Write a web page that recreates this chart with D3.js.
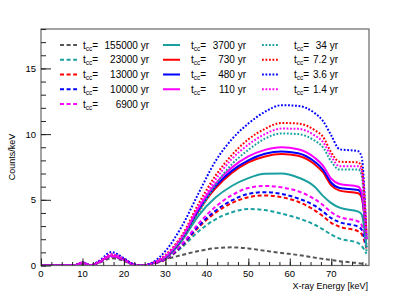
<!DOCTYPE html>
<html>
<head>
<meta charset="utf-8">
<script src="https://cdn.jsdelivr.net/npm/d3@7"></script>
<style>
  body { margin: 0; background: #fff; }
  svg { font-family: "Liberation Sans", Arial, sans-serif; }
</style>
</head>
<body>
<svg width="411" height="296"></svg>
<script>
// energy grid (keV) the curves are sampled at
let energy = [0, 8, 10, 12, 14, 17, 20, 22, 24.5, 27, 30, 34, 38, 42, 46, 50, 54, 58, 62, 66, 68, 70, 72, 76.5, 77.3, 78.5];

// counts/keV, one array per curve
let dash155000 = [0, 0.01, 0.12, 0.01, 0.2, 0.55, 0.35, 0.1, 0, 0.15, 0.45, 0.8, 1.1, 1.32, 1.38, 1.3, 1.12, 0.95, 0.8, 0.6, 0.5, 0.42, 0.33, 0.18, 0.14, 0.08];
let dash23000  = [0, 0.02, 0.18, 0.02, 0.24, 0.7, 0.42, 0.1, 0, 0.15, 0.45, 1.4, 2.6, 3.5, 4.05, 4.3, 4.22, 3.95, 3.6, 3.1, 2.75, 2.35, 2.05, 1.7, 1.5, 0.9];
let dash13000  = [0, 0.02, 0.18, 0.02, 0.24, 0.7, 0.42, 0.1, 0, 0.15, 0.45, 1.5, 2.9, 4.0, 4.75, 5.2, 5.33, 5.2, 4.85, 4.2, 3.75, 3.25, 2.95, 2.6, 2.4, 1.3];
let dash10000  = [0, 0.02, 0.18, 0.02, 0.24, 0.7, 0.42, 0.1, 0, 0.15, 0.48, 1.55, 3.0, 4.15, 4.95, 5.45, 5.58, 5.45, 5.1, 4.55, 4.1, 3.6, 3.3, 2.95, 2.75, 1.4];
let dash6900   = [0, 0.02, 0.18, 0.02, 0.24, 0.7, 0.42, 0.1, 0, 0.15, 0.5, 1.65, 3.2, 4.45, 5.35, 5.9, 6.05, 5.95, 5.65, 5.05, 4.6, 4.05, 3.7, 3.35, 3.1, 1.6];
let solid3700  = [0, 0.02, 0.2, 0.02, 0.26, 0.75, 0.45, 0.12, 0, 0.18, 0.55, 1.9, 3.8, 5.15, 6.05, 6.65, 6.98, 7.0, 6.7, 6.0, 5.3, 4.75, 4.4, 4.1, 3.9, 1.4];
let solid730   = [0, 0.02, 0.2, 0.02, 0.26, 0.75, 0.45, 0.12, 0, 0.18, 0.6, 2.0, 4.15, 5.85, 7.05, 7.85, 8.3, 8.48, 8.35, 7.7, 7.1, 6.1, 5.7, 5.5, 5.2, 2.0];
let solid480   = [0, 0.02, 0.2, 0.02, 0.26, 0.75, 0.45, 0.12, 0, 0.18, 0.62, 2.05, 4.25, 6.0, 7.2, 8.0, 8.5, 8.68, 8.55, 7.9, 7.3, 6.3, 5.9, 5.75, 5.4, 2.0];
let solid110   = [0, 0.02, 0.2, 0.02, 0.26, 0.75, 0.45, 0.12, 0, 0.18, 0.65, 2.15, 4.4, 6.2, 7.45, 8.3, 8.8, 9.0, 8.85, 8.2, 7.6, 6.6, 6.2, 6.0, 5.6, 2.0];
let dot34      = [0, 0.02, 0.22, 0.02, 0.3, 0.85, 0.5, 0.13, 0, 0.2, 0.7, 2.0, 4.0, 6.1, 7.7, 8.8, 9.65, 10.05, 10.0, 9.5, 9.0, 7.9, 7.3, 7.3, 6.9, 1.0];
let dot7_2     = [0, 0.02, 0.22, 0.02, 0.3, 0.85, 0.5, 0.13, 0, 0.2, 0.8, 2.3, 4.7, 6.8, 8.4, 9.6, 10.4, 10.85, 10.8, 10.3, 9.8, 8.6, 7.9, 7.85, 7.5, 2.5];
let dot3_6     = [0, 0.02, 0.24, 0.02, 0.35, 1.02, 0.55, 0.15, 0, 0.25, 1.1, 3.0, 5.5, 7.9, 9.6, 10.8, 11.7, 12.2, 12.15, 11.6, 11.0, 9.9, 8.85, 8.7, 8.3, 2.2];
let dot1_4     = [0, 0.02, 0.22, 0.02, 0.3, 0.85, 0.5, 0.13, 0, 0.2, 0.75, 2.2, 4.5, 6.5, 8.1, 9.2, 10.0, 10.42, 10.4, 9.9, 9.4, 8.3, 7.55, 7.55, 7.2, 2.3];

let legendNames = ["155000 yr", "23000 yr", "13000 yr", "10000 yr", "6900 yr",
                   "3700 yr", "730 yr", "480 yr", "110 yr",
                   "34 yr", "7.2 yr", "3.6 yr", "1.4 yr"];

let xTicks = [0, 10, 20, 30, 40, 50, 60, 70];
let yTicks = [0, 5, 10, 15];

let gray = "#555555", teal = "#1aa0a0", red = "#ff0000", blue = "#0000ff", magenta = "#ff00ff";
let dashed = "4,2.6", dotted = "1.8,1.7";

let series = [
  {values: dash155000, color: gray,    dash: dashed},
  {values: dash23000,  color: teal,    dash: dashed},
  {values: dash13000,  color: red,     dash: dashed},
  {values: dash10000,  color: blue,    dash: dashed},
  {values: dash6900,   color: magenta, dash: dashed},
  {values: solid3700,  color: teal,    dash: null},
  {values: solid730,   color: red,     dash: null},
  {values: solid480,   color: blue,    dash: null},
  {values: solid110,   color: magenta, dash: null},
  {values: dot34,      color: teal,    dash: dotted},
  {values: dot7_2,     color: red,     dash: dotted},
  {values: dot3_6,     color: blue,    dash: dotted},
  {values: dot1_4,     color: magenta, dash: dotted}
];
series.forEach((s, i) => s.name = legendNames[i]);

let frameLeft = 41, frameRight = 369, frameTop = 29, frameBottom = 265.5;

let svg = d3.select("svg");

let x = d3.scaleLinear().domain([0, 79.1]).range([frameLeft, frameRight]);
let y = d3.scaleLinear().domain([0, 18]).range([frameBottom, frameTop]);

svg.append("defs").append("clipPath").attr("id", "frame")
   .append("rect")
   .attr("x", frameLeft).attr("y", frameTop)
   .attr("width", frameRight - frameLeft).attr("height", frameBottom - frameTop);

// curves
let line = d3.line()
  .x((d, i) => x(energy[i]))
  .y(d => y(d))
  .curve(d3.curveMonotoneX);

svg.append("g")
   .attr("clip-path", "url(#frame)")
   .selectAll("path")
   .data(series)
   .enter()
   .append("path")
     .attr("d", d => line(d.values))
     .attr("fill", "none")
     .attr("stroke", d => d.color)
     .attr("stroke-width", 2)
     .attr("stroke-dasharray", d => d.dash);

// frame
svg.append("rect")
   .attr("x", frameLeft).attr("y", frameTop)
   .attr("width", frameRight - frameLeft).attr("height", frameBottom - frameTop)
   .attr("fill", "none")
   .attr("stroke", "#666")
   .attr("stroke-width", 1.2);

// x axis: major ticks every 10, minor every 2.5
let xAxis = svg.append("g").attr("transform", `translate(0,${frameBottom})`);
xAxis.call(d3.axisTop(x).tickValues(d3.range(0, 79, 2.5)).tickSize(3.5).tickFormat(""));
xAxis.append("g").call(d3.axisTop(x).tickValues(xTicks).tickSize(7).tickFormat(""));
xAxis.selectAll(".domain").remove();
xAxis.selectAll("line").attr("stroke", "#222");
svg.append("g").selectAll("text")
   .data(xTicks)
   .enter()
   .append("text")
     .attr("x", d => x(d))
     .attr("y", frameBottom + 11)
     .attr("text-anchor", "middle")
     .attr("font-size", 9.5)
     .text(d => d);

// y axis: major every 5, minor every 1
let yAxis = svg.append("g").attr("transform", `translate(${frameLeft},0)`);
yAxis.call(d3.axisRight(y).tickValues(d3.range(0, 18.01, 1)).tickSize(5).tickFormat(""));
yAxis.append("g").call(d3.axisRight(y).tickValues(yTicks).tickSize(10).tickFormat(""));
yAxis.selectAll(".domain").remove();
yAxis.selectAll("line").attr("stroke", "#222");
svg.append("g").selectAll("text")
   .data(yTicks)
   .enter()
   .append("text")
     .attr("x", frameLeft - 5)
     .attr("y", d => y(d) + 3.5)
     .attr("text-anchor", "end")
     .attr("font-size", 9.5)
     .text(d => d);

// axis titles
svg.append("text")
   .attr("transform", "translate(15,157) rotate(-90)")
   .attr("text-anchor", "middle")
   .attr("font-size", 9)
   .text("Counts/keV");

svg.append("text")
   .attr("x", 368)
   .attr("y", 289)
   .attr("text-anchor", "end")
   .attr("font-size", 9)
   .text("X-ray Energy [keV]");

// legend, three columns: dashed, solid, dotted
let columns = [
  {sample: 60, label: 83, numEnd: 149},
  {sample: 163, label: 191, numEnd: 246},
  {sample: 262, label: 294, numEnd: 338}
];
let rowIndex = [0, 1, 2, 3, 4, 0, 1, 2, 3, 0, 1, 2, 3];
let colIndex = [0, 0, 0, 0, 0, 1, 1, 1, 1, 2, 2, 2, 2];

let entry = svg.append("g").selectAll("g")
   .data(series)
   .enter()
   .append("g")
     .attr("transform", (d, i) => `translate(0,${45 + rowIndex[i] * 14.75})`);

entry.append("line")
   .attr("x1", (d, i) => columns[colIndex[i]].sample)
   .attr("x2", (d, i) => columns[colIndex[i]].sample + 17)
   .attr("stroke", d => d.color)
   .attr("stroke-width", 2)
   .attr("stroke-dasharray", d => d.dash);

let label = entry.append("text")
   .attr("x", (d, i) => columns[colIndex[i]].label)
   .attr("y", 3.6)
   .attr("font-size", 10);
label.append("tspan").text("t");
label.append("tspan").attr("font-size", 6.5).attr("dy", 2).text("cc");
label.append("tspan").attr("dy", -2).text("=");

entry.append("text")
   .attr("x", (d, i) => columns[colIndex[i]].numEnd)
   .attr("y", 3.6)
   .attr("text-anchor", "end")
   .attr("font-size", 10)
   .text(d => d.name);
</script>
</body>
</html>
